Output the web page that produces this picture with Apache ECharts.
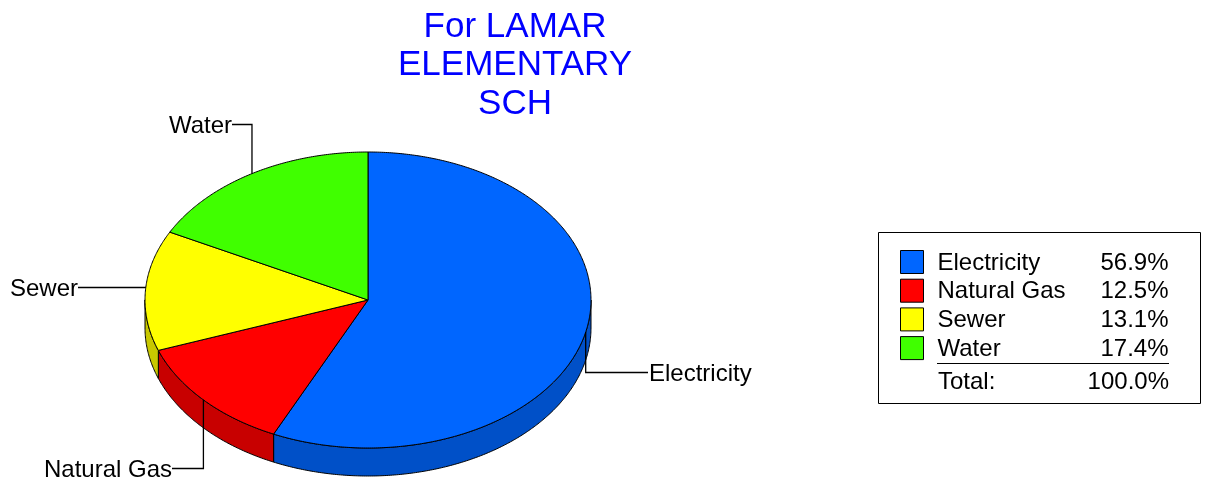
<!DOCTYPE html>
<html>
<head>
<meta charset="utf-8">
<style>html,body{margin:0;padding:0;background:#fff}#c{width:1208px;height:487px}</style>
<script src="https://cdn.jsdelivr.net/npm/echarts@6/dist/echarts.min.js"></script>
</head>
<body>
<div id="c"></div>
<script>
const titleLines = ['For LAMAR', 'ELEMENTARY', 'SCH'];
const categories = ['Electricity', 'Natural Gas', 'Sewer', 'Water'];
const shares = [56.9, 12.5, 13.1, 17.4];
const totalLabel = 'Total:';
const totalText = '100.0%';
const topColors = ['#0066ff', '#ff0000', '#ffff00', '#40ff00'];
const sideColors = ['#0050c8', '#c80000', '#c8c800', '#32c800'];

const FONT = '"Liberation Sans", Arial, sans-serif';
const CX = 368, CY = 300, RX = 223, RY = 148, DEPTH = 28;
// Elbow of each leader line: label anchor and whether it runs vertically first.
const leaders = [
  {x: 648, y: 372, vertical: true, align: 'left'},
  {x: 172, y: 468, vertical: true, align: 'right'},
  {x: 78,  y: 287, vertical: false, align: 'right'},
  {x: 232, y: 124, vertical: true, align: 'right'}
];

const total = shares.reduce((a, b) => a + b, 0);
const startAngles = [];
shares.reduce((acc, v, i) => { startAngles[i] = acc; return acc + v; }, 0);
const toAngle = v => v / total * 2 * Math.PI;
const pt = (a, dy) => [CX + RX * Math.sin(a), CY - RY * Math.cos(a) + (dy || 0)];
function arc(a0, a1, dy) {
  const n = Math.max(2, Math.ceil(Math.abs(a1 - a0) / (Math.PI / 360)));
  const out = [];
  for (let i = 0; i <= n; i++) out.push(pt(a0 + (a1 - a0) * i / n, dy));
  return out;
}

function sliceItem(i) {
  return function (params, api) {
    const a0 = toAngle(api.value(0));
    const a1 = a0 + toAngle(api.value(1));
    const children = [];
    const sa = Math.max(a0, Math.PI / 2), sb = Math.min(a1, 3 * Math.PI / 2);
    if (sb > sa) {
      const pts = arc(sa, sb, 0).concat(arc(sb, sa, DEPTH));
      children.push({type: 'polygon', shape: {points: pts},
        style: {fill: sideColors[i], stroke: '#000', lineWidth: 1}});
    }
    children.push({type: 'polygon', shape: {points: [[CX, CY]].concat(arc(a0, a1, 0))},
      style: {fill: topColors[i], stroke: '#000', lineWidth: 1, lineJoin: 'round'}});
    const L = leaders[i];
    const m = pt((a0 + a1) / 2, 0);
    let line;
    if (L.vertical) {
      const vx = m[0];
      line = [[vx, m[1]], [vx, L.y + .5], [L.x, L.y + .5]];
    } else {
      const s = Math.asin((L.y - CY) / RY);
      line = [[CX - RX * Math.cos(s), L.y + .5], [L.x, L.y + .5]];
    }
    children.push({type: 'polyline', shape: {points: line},
      style: {fill: 'none', stroke: '#000', lineWidth: 1.3}});
    children.push({type: 'text', x: L.x + (L.align === 'left' ? 1 : 0), y: L.y + 2,
      style: {text: categories[i], fill: '#000', font: '24px ' + FONT,
        align: L.align, verticalAlign: 'middle'}});
    return {type: 'group', children};
  };
}

const series = categories.map((name, i) => ({
  type: 'custom', name, coordinateSystem: 'none', silent: true,
  itemStyle: {color: topColors[i]},
  data: [[startAngles[i], shares[i]]],
  renderItem: sliceItem(i)
}));

const chart = echarts.init(document.getElementById('c'), null, {renderer: 'canvas'});
chart.setOption({
  animation: false,
  backgroundColor: '#fff',
  title: {
    text: titleLines.join('\n'), left: 510, top: 3, textAlign: 'center',
    textStyle: {color: '#0000ff', fontFamily: FONT, fontSize: 35, fontWeight: 'normal', lineHeight: 38.5}
  },
  legend: {
    left: 900, top: 249, orient: 'vertical', padding: 0,
    icon: 'rect', itemWidth: 23, itemHeight: 23, itemGap: 2.7,
    selectedMode: false,
    itemStyle: {borderColor: '#000', borderWidth: 1},
    data: categories,
    textStyle: {
      rich: {
        s: {width: 9, lineHeight: 23},
        n: {width: 150, fontFamily: FONT, fontSize: 24, color: '#000', lineHeight: 23, padding: [2, 0, 0, 0]},
        v: {width: 81, align: 'right', fontFamily: FONT, fontSize: 24, color: '#000', lineHeight: 23, padding: [2, 0, 0, 0]}
      }
    },
    formatter: name => `{s| }{n|${name}}{v|${shares[categories.indexOf(name)].toFixed(1)}%}`
  },
  graphic: [
    {type: 'rect', z: -1, shape: {x: 878.5, y: 232.5, width: 322, height: 171},
      style: {fill: '#fff', stroke: '#000', lineWidth: 1}},
    {type: 'line', shape: {x1: 937, y1: 363.5, x2: 1169, y2: 363.5},
      style: {stroke: '#000', lineWidth: 1}},
    {type: 'text', x: 938, y: 382,
      style: {text: totalLabel, fill: '#000', font: '24px ' + FONT, align: 'left', verticalAlign: 'middle'}},
    {type: 'text', x: 1169, y: 382,
      style: {text: totalText, fill: '#000', font: '24px ' + FONT, align: 'right', verticalAlign: 'middle'}}
  ],
  series
});
</script>
</body>
</html>
